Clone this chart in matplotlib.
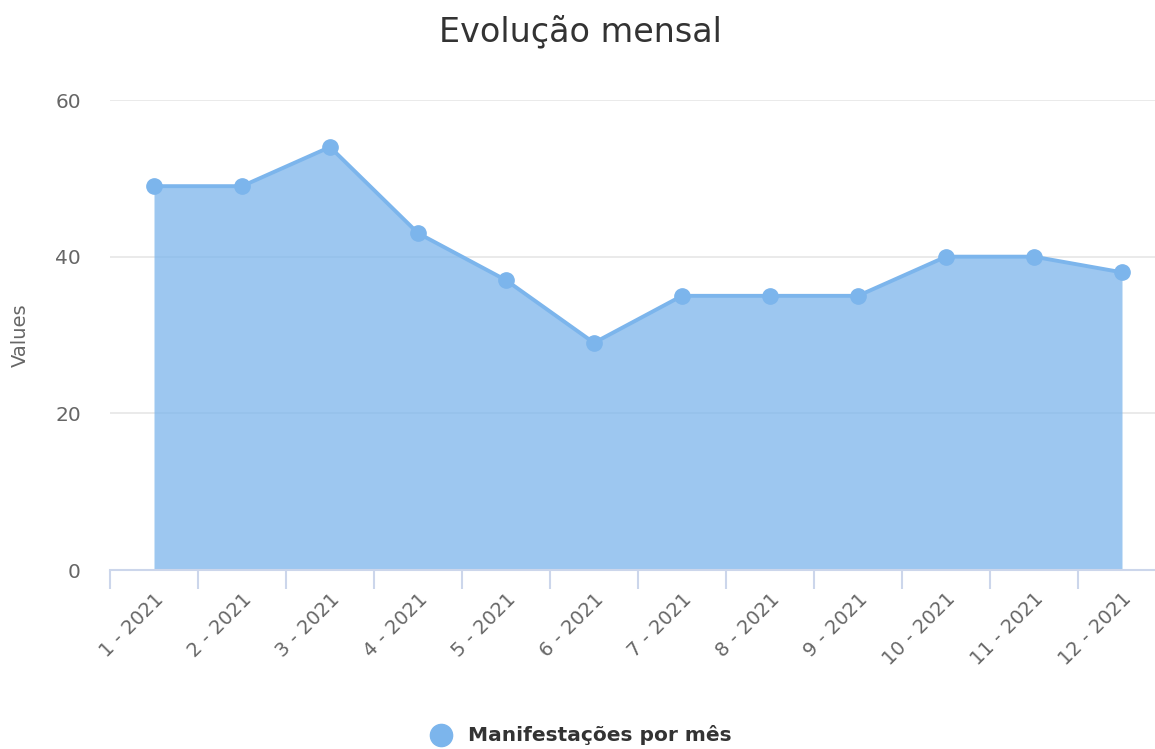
import matplotlib
matplotlib.use("Agg")
import matplotlib.pyplot as plt
import numpy as np

categories = ["1 - 2021", "2 - 2021", "3 - 2021", "4 - 2021", "5 - 2021", "6 - 2021",
              "7 - 2021", "8 - 2021", "9 - 2021", "10 - 2021", "11 - 2021", "12 - 2021"]
values = [49, 49, 54, 43, 37, 29, 35, 35, 35, 40, 40, 38]
series_name = "Manifestações por mês"
title = "Evolução mensal"
y_ticks = [0, 20, 40, 60]

plt.rcParams['font.family'] = ['DejaVu Sans']

fig = plt.figure(figsize=(11.55, 7.49), dpi=100)
# plot area extends slightly past the right edge (as in the reference crop)
ax = fig.add_axes([110/1155, 1-570/749, (88*12)/1155, (570-100)/749])

x = np.arange(len(categories))
color = "#7cb5ec"
ax.fill_between(x, values, 0, color=color, alpha=0.75, linewidth=0, zorder=2)
ax.plot(x, values, color=color, linewidth=2.8, zorder=3)
ax.plot(x, values, 'o', color=color, markersize=11, zorder=4)

ax.set_xlim(-0.5, len(categories) - 0.5)
ax.set_ylim(0, 60)
ax.set_yticks(y_ticks)
ax.set_yticklabels([str(v) for v in y_ticks], color="#666666", fontsize=14.5)
ax.tick_params(axis='y', length=0, pad=21)
ax.yaxis.grid(True, color="#e6e6e6", linewidth=1.2, zorder=0)
ax.set_axisbelow(True)

ax.set_xticks(x)
ax.set_xticklabels(categories, rotation=45, ha='right', rotation_mode='anchor',
                   color="#666666", fontsize=14)
ax.tick_params(axis='x', length=0, pad=14)
ax.set_xticks(np.arange(-0.5, len(categories), 1), minor=True)
ax.tick_params(axis='x', which='minor', length=14, color="#ccd6eb", width=1.5)

for s in ['top', 'right', 'left']:
    ax.spines[s].set_visible(False)
ax.spines['bottom'].set_color("#ccd6eb")
ax.spines['bottom'].set_linewidth(1.5)

fig.text(20/1155, 1-335/749, "Values", rotation=90, ha='center', va='center',
         color="#666666", fontsize=14)
fig.text(580/1155, 1-32/749, title, ha='center', va='center', color="#333333", fontsize=24)

fig.lines.append(plt.Line2D([441/1155], [1-735/749], marker='o', markersize=16,
                            color=color, linestyle='none', transform=fig.transFigure))
fig.text(468/1155, 1-735/749, series_name, ha='left', va='center', color="#333333",
         fontsize=14.5, fontweight='bold')

fig.savefig("out.png", dpi=100)
